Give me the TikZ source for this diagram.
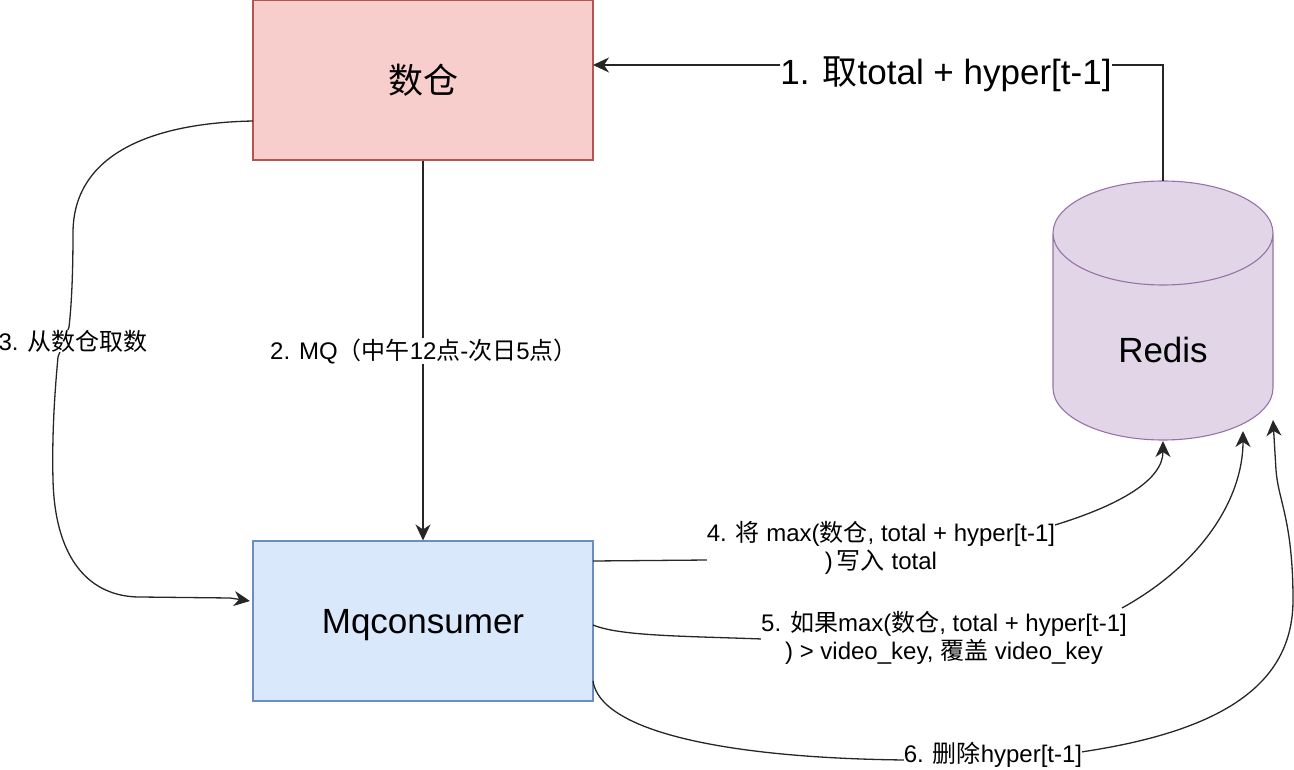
\documentclass[tikz,border=0pt]{standalone}
\usepackage{fontspec}
\setmainfont{Liberation Sans}
\newfontfamily\cjk{Noto Sans CJK SC}
\usetikzlibrary{arrows.meta,shapes.geometric}
\definecolor{redfill}{HTML}{F8CECC}\definecolor{redline}{HTML}{B85450}
\definecolor{bluefill}{HTML}{DAE8FC}\definecolor{blueline}{HTML}{6C8EBF}
\definecolor{purplefill}{HTML}{E1D5E7}\definecolor{purpleline}{HTML}{9673A6}
\tikzset{x=1pt,y=-1pt,
 boxn/.style={draw,minimum width=340pt,minimum height=160pt,inner sep=0pt,line width=1.1pt},
 conn/.style={draw=black!85,line width=1.3pt,-{Stealth[length=16pt,width=15pt,inset=5pt]}},
 lab/.style={fill=white,inner sep=0pt,font=\fontsize{24}{28}\selectfont,align=center},
 biglab/.style={fill=white,inner sep=0pt,font=\fontsize{35}{40}\selectfont}}
\begin{document}
\begin{tikzpicture}
\useasboundingbox (0,0) rectangle (1294,770);
\node[boxn,fill=redfill,draw=redline,font=\fontsize{35}{40}\selectfont] (dw) at (423,80) {\cjk 数仓};
\node[boxn,fill=bluefill,draw=blueline] (mq) at (423,621) {};
\node[font=\fontsize{35}{40}\selectfont] (mqt) at (423,625) {Mqconsumer};
% Redis cylinder
\fill[purplefill] (1053,233) arc[x radius=110,y radius=52,start angle=180,end angle=360] -- (1273,233) -- (1273,388) arc[x radius=110,y radius=52,start angle=0,end angle=180] -- cycle;
\fill[purplefill] (1163,233) ellipse[x radius=110,y radius=52];
\draw[purpleline,line width=1.1pt] (1053,233) arc[x radius=110,y radius=52,start angle=180,end angle=-180] (1053,233) -- (1053,388) arc[x radius=110,y radius=52,start angle=180,end angle=0] -- (1273,233);
\node[font=\fontsize{35}{40}\selectfont] (rd) at (1163,350) {Redis};
\coordinate (rtop) at (1163,181);
\coordinate (r4) at (1163,441);
\coordinate (r5) at (1243,431);
\coordinate (r6) at (1273,420);
\coordinate (dwr) at (593,65);
\coordinate (dwl) at (253,121);
\coordinate (mql) at (250,601);
\coordinate (m4) at (593,561);
\coordinate (m5) at (593,625);
\coordinate (m6) at (593,681);
\draw[conn] (rtop) -- (1163,65) -- (dwr);
\draw[conn] (dw.south) -- (mq.north);
\draw[conn] (dwl) .. controls (150,123) and (73,155) .. (73,233) .. controls (73,280) and (71,310) .. (69,327) -- (58,357) .. controls (54,400) and (52,440) .. (53,480) .. controls (55,560) and (90,597) .. (140,597) -- (230,598) -- (mql);
\draw[conn] (m4) -- (708,560) (1055,525) .. controls (1120,505) and (1163,480) .. (r4);
\draw[conn] (m5) .. controls (620,636) and (680,636) .. (762,639) (1122,608) .. controls (1200,565) and (1243,500) .. (r5);
\draw[conn] (m6) .. controls (600,730) and (720,758) .. (905,760) (1081,752) .. controls (1230,730) and (1293,680) .. (1293,600) .. controls (1293,520) and (1278,500) .. (1276,470) -- (r6);
\node[biglab] (l1) at (946,74) {1. {\cjk 取}total + hyper[t-1]};
\node[lab] (l2) at (424,351) {2. MQ{\cjk （中午}12{\cjk 点}-{\cjk 次日}5{\cjk 点）}};
\node[lab] (l3) at (73,341) {3. {\cjk 从数仓取数}};
\node[lab] (l4) at (881,548) {4. {\cjk 将} max({\cjk 数仓}, total + hyper[t-1]\\)\,{\cjk 写入} total};
\node[lab] (l5) at (944,638) {5. {\cjk 如果}max({\cjk 数仓}, total + hyper[t-1]\\) > video\_key, {\cjk 覆盖} video\_key};
\node[lab] (l6) at (993,755) {6. {\cjk 删除}hyper[t-1]};
\end{tikzpicture}
\end{document}
